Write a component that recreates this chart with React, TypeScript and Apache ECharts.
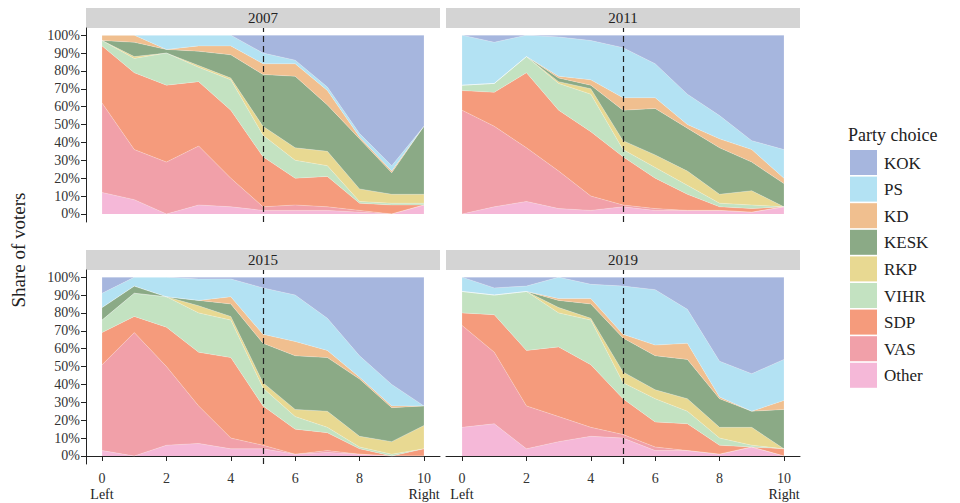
import * as echarts from 'echarts'
import { useEffect, useRef } from 'react'

const parties = ['Other', 'VAS', 'SDP', 'VIHR', 'RKP', 'KESK', 'KD', 'PS', 'KOK']
const colors = ['#f5b8d8', '#f1a0a9', '#f59b7c', '#c3e2c1', '#e8d992', '#8baa86', '#f0bf8f', '#b3e2f3', '#a6b6de']
const years = ['2007', '2011', '2015', '2019']
const scale = ['0', '1', '2', '3', '4', '5', '6', '7', '8', '9', '10']

// cumulative upper edge of each party band (%), bottom to top
const tops2007 = [
  [12, 8, 0, 5, 4, 2, 2, 2, 1, 0, 5],
  [62, 36, 29, 38, 20, 4, 5, 4, 2, 0, 5],
  [94, 79, 72, 74, 58, 32, 20, 21, 6, 5, 5],
  [97, 87, 90, 82, 75, 44, 30, 27, 7, 6, 6],
  [97, 88, 90, 83, 76, 49, 37, 35, 14, 11, 11],
  [97, 96, 92, 91, 89, 78, 77, 61, 42, 23, 49],
  [100, 100, 92, 94, 94, 84, 84, 69, 43, 24, 49],
  [100, 100, 100, 100, 100, 90, 86, 71, 45, 27, 49],
  [100, 100, 100, 100, 100, 100, 100, 100, 100, 100, 100],
]
const tops2011 = [
  [0, 4, 7, 3, 2, 4, 2, 2, 2, 1, 4],
  [58, 49, 37, 24, 10, 5, 3, 2, 2, 1, 4],
  [69, 68, 79, 58, 46, 32, 20, 11, 4, 3, 4],
  [72, 73, 88, 73, 67, 36, 26, 16, 6, 5, 4],
  [72, 73, 88, 74, 70, 41, 33, 24, 11, 13, 4],
  [72, 73, 88, 76, 72, 58, 59, 48, 37, 29, 17],
  [72, 73, 88, 77, 75, 65, 65, 50, 42, 36, 20],
  [100, 96, 100, 99, 97, 93, 84, 67, 55, 41, 36],
  [100, 100, 100, 100, 100, 100, 100, 100, 100, 100, 100],
]
const tops2015 = [
  [3, 0, 6, 7, 4, 4, 1, 2, 1, 0, 0],
  [51, 69, 50, 28, 10, 6, 1, 3, 1, 0, 0],
  [69, 78, 72, 58, 55, 28, 15, 13, 4, 0, 4],
  [76, 91, 89, 80, 76, 38, 22, 16, 5, 1, 4],
  [76, 91, 89, 84, 78, 41, 26, 25, 11, 8, 17],
  [83, 95, 89, 87, 85, 63, 56, 55, 43, 27, 28],
  [83, 95, 89, 87, 89, 68, 64, 59, 44, 28, 28],
  [91, 100, 100, 99, 99, 94, 90, 77, 56, 40, 28],
  [100, 100, 100, 100, 100, 100, 100, 100, 100, 100, 100],
]
const tops2019 = [
  [16, 18, 4, 8, 11, 10, 3, 3, 1, 5, 0],
  [73, 58, 28, 22, 16, 12, 5, 3, 1, 5, 0],
  [80, 79, 59, 61, 51, 32, 19, 18, 6, 5, 4],
  [92, 90, 92, 80, 76, 41, 32, 25, 10, 6, 4],
  [92, 90, 92, 83, 77, 47, 37, 32, 16, 16, 4],
  [92, 90, 92, 87, 85, 66, 56, 54, 32, 25, 26],
  [92, 90, 92, 88, 88, 68, 62, 63, 33, 25, 31],
  [100, 94, 95, 100, 96, 95, 93, 82, 53, 46, 54],
  [100, 100, 100, 100, 100, 100, 100, 100, 100, 100, 100],
]
const panelTops = [tops2007, tops2011, tops2015, tops2019]
const yTicks = [0, 10, 20, 30, 40, 50, 60, 70, 80, 90, 100]

const FONT = 'Liberation Serif'

export default function App() {
  const ref = useRef<HTMLDivElement>(null)

  useEffect(() => {
    if (!ref.current) return
    const chart = echarts.init(ref.current, null, { renderer: 'svg' })

    // coordinates relative to the chart div (page has an 8px margin)
    const lefts = [78, 438]
    const tops = [20, 262]
    const W = 354
    const H = 194

    const grids: any[] = []
    const xAxes: any[] = []
    const yAxes: any[] = []
    const series: any[] = []
    const graphics: any[] = []

    panelTops.forEach((tp, p) => {
      const col = p % 2
      const row = Math.floor(p / 2)
      grids.push({ left: lefts[col], top: tops[row], width: W, height: H })
      xAxes.push({
        type: 'category', gridIndex: p, data: scale, boundaryGap: true,
        axisLine: { show: row === 1, lineStyle: { color: '#222' } },
        axisTick: { show: row === 1, alignWithLabel: true, interval: 1, lineStyle: { color: '#222' } },
        axisLabel: { show: row === 1, interval: 1, color: '#333', fontFamily: FONT, fontSize: 14, margin: 7 },
        splitLine: { show: false },
      })
      yAxes.push({
        type: 'value', gridIndex: p, min: -4.5, max: 104,
        axisLine: { show: col === 0, lineStyle: { color: '#222' } },
        axisTick: { show: col === 0, customValues: yTicks, lineStyle: { color: '#222' } },
        axisLabel: { show: col === 0, customValues: yTicks, formatter: (v: number) => v + '%', color: '#333', fontFamily: FONT, fontSize: 14, margin: 6 },
        splitLine: { show: false },
      })
      parties.forEach((name, i) => {
        const vals = tp[i].map((v, k) => v - (i > 0 ? tp[i - 1][k] : 0))
        series.push({
          name, type: 'line', stack: 'p' + p, xAxisIndex: p, yAxisIndex: p,
          data: vals,
          showSymbol: false, symbol: 'none',
          lineStyle: { width: 0.4, color: 'rgba(255,255,255,0.6)' },
          areaStyle: { color: colors[i], opacity: 1 },
          z: 2,
          markLine: i === parties.length - 1 ? {
            silent: true, symbol: 'none', label: { show: false },
            lineStyle: { type: [6, 4], color: '#222', width: 1.2 },
            data: [{ xAxis: '5' }],
          } : undefined,
        })
      })
      graphics.push({
        type: 'rect', shape: { x: lefts[col], y: tops[row] - 20, width: W, height: 20 },
        style: { fill: '#d4d4d4' },
      })
      graphics.push({
        type: 'text', x: lefts[col] + W / 2, y: tops[row] - 10,
        style: { text: years[p], fill: '#222', font: `15px "${FONT}"`, align: 'center', verticalAlign: 'middle' },
      })
      if (row === 1) {
        graphics.push({ type: 'text', x: lefts[col] + 16, y: 486, style: { text: 'Left', fill: '#222', font: `14px "${FONT}"`, align: 'center', verticalAlign: 'middle' } })
        graphics.push({ type: 'text', x: lefts[col] + 338, y: 486, style: { text: 'Right', fill: '#222', font: `14px "${FONT}"`, align: 'center', verticalAlign: 'middle' } })
      }
    })

    graphics.push({
      type: 'text', x: 10, y: 242, rotation: Math.PI / 2,
      style: { text: 'Share of voters', fill: '#222', font: `19px "${FONT}"`, align: 'center', verticalAlign: 'middle' },
    })
    graphics.push({
      type: 'text', x: 840, y: 127,
      style: { text: 'Party choice', fill: '#222', font: `18px "${FONT}"`, align: 'left', verticalAlign: 'middle' },
    })
    const legendOrder = [...parties].reverse()
    legendOrder.forEach((name, j) => {
      const ci = parties.indexOf(name)
      const y = 142 + j * 26.6
      graphics.push({ type: 'rect', shape: { x: 842, y, width: 27, height: 25 }, style: { fill: colors[ci] } })
      graphics.push({
        type: 'text', x: 876, y: y + 13,
        style: { text: name, fill: '#222', font: `17px "${FONT}"`, align: 'left', verticalAlign: 'middle' },
      })
    })

    chart.setOption({
      animation: false,
      grid: grids,
      xAxis: xAxes,
      yAxis: yAxes,
      series,
      graphic: graphics,
    })
    return () => chart.dispose()
  }, [])

  return <div ref={ref} style={{ width: 944, height: 495 }} />
}
